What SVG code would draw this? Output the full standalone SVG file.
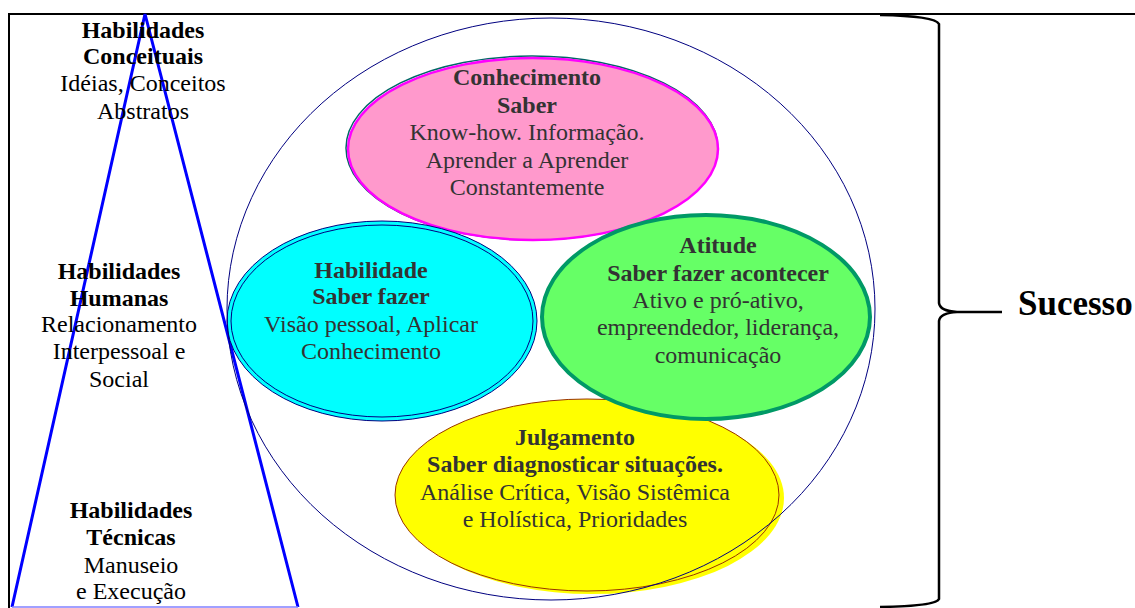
<svg xmlns="http://www.w3.org/2000/svg" width="1135" height="608" viewBox="0 0 1135 608" font-family="Times New Roman, Liberation Serif, Tinos, serif">
<style>
text{font-family:"Times New Roman","Liberation Serif",Tinos,serif;font-size:24px;text-anchor:middle}
.b{font-weight:bold}
.lt{fill:#000}
.et{fill:#333333}
</style>
<rect x="0" y="0" width="1135" height="608" fill="#ffffff"/>
<g id="frame" fill="none" stroke="#000" stroke-width="2">
<path d="M9 608 L9 14 L1135 14"/>
</g>
<g id="pyramid">
<path d="M12 607 L145 14 L298 607" fill="none" stroke="#0000ff" stroke-width="3" stroke-linejoin="miter"/>
<line x1="12" y1="607" x2="298" y2="607" stroke="#8080ff" stroke-width="1.5"/>
</g>
<g id="julgamento">
<ellipse cx="592" cy="498" rx="192" ry="96" fill="#ffff00"/>
<ellipse cx="587" cy="495" rx="192" ry="96" fill="#ffff00" stroke="#993300" stroke-width="1"/>
<text class="b et" x="575" y="445">Julgamento</text>
<text class="b et" x="575" y="472">Saber diagnosticar situações.</text>
<text class="et" x="575" y="500">Análise Crítica, Visão Sistêmica</text>
<text class="et" x="575" y="527">e Holística, Prioridades</text>
</g>
<g id="conhecimento">
<ellipse cx="532" cy="148" rx="186" ry="92" fill="none" stroke="#006666" stroke-width="1.5"/>
<ellipse cx="533" cy="149" rx="185" ry="91" fill="#ff99cc" stroke="#ff00ff" stroke-width="2.5"/>
<text class="b et" x="527" y="85">Conhecimento</text>
<text class="b et" x="527" y="113">Saber</text>
<text class="et" x="527" y="140">Know-how. Informação.</text>
<text class="et" x="527" y="168">Aprender a Aprender</text>
<text class="et" x="527" y="195">Constantemente</text>
</g>
<g id="habilidade">
<ellipse cx="382" cy="321" rx="155" ry="100" fill="#00ffff" stroke="#000080" stroke-width="1"/>
<ellipse cx="382" cy="321" rx="151" ry="96" fill="#00ffff" stroke="#000080" stroke-width="1"/>
<text class="b et" x="371" y="278">Habilidade</text>
<text class="b et" x="371" y="304">Saber fazer</text>
<text class="et" x="371" y="332">Visão pessoal, Aplicar</text>
<text class="et" x="371" y="359">Conhecimento</text>
</g>
<g id="atitude">
<ellipse cx="706" cy="317" rx="164" ry="102" fill="#66ff66" stroke="#009966" stroke-width="4"/>
<text class="b et" x="718" y="253">Atitude</text>
<text class="b et" x="718" y="281">Saber fazer acontecer</text>
<text class="et" x="718" y="308">Ativo e pró-ativo,</text>
<text class="et" x="718" y="335">empreendedor, liderança,</text>
<text class="et" x="718" y="363">comunicação</text>
</g>
<g id="outer-circle">
<ellipse cx="551" cy="309" rx="324" ry="291" fill="none" stroke="#000080" stroke-width="1"/>
</g>
<g id="conceituais">
<text class="b lt" x="143" y="38">Habilidades</text>
<text class="b lt" x="143" y="64">Conceituais</text>
<text class="lt" x="143" y="91">Idéias, Conceitos</text>
<text class="lt" x="143" y="119">Abstratos</text>
</g>
<g id="humanas">
<text class="b lt" x="119" y="279">Habilidades</text>
<text class="b lt" x="119" y="306">Humanas</text>
<text class="lt" x="119" y="332">Relacionamento</text>
<text class="lt" x="119" y="359">Interpessoal e</text>
<text class="lt" x="119" y="387">Social</text>
</g>
<g id="tecnicas">
<text class="b lt" x="131" y="518">Habilidades</text>
<text class="b lt" x="131" y="545">Técnicas</text>
<text class="lt" x="131" y="573">Manuseio</text>
<text class="lt" x="131" y="599">e Execução</text>
</g>
<g id="connectors">
<path d="M880 15 Q935 16 939 24 L939 303 Q940 311 957 312 L1002 312 M957 312 Q940 313 939 321 L939 599 Q936 606 880 607" fill="none" stroke="#000" stroke-width="2.5"/>
</g>
<g id="sucesso">
<text class="b lt" x="1018" y="315" style="text-anchor:start;font-size:35px">Sucesso</text>
</g>
</svg>
